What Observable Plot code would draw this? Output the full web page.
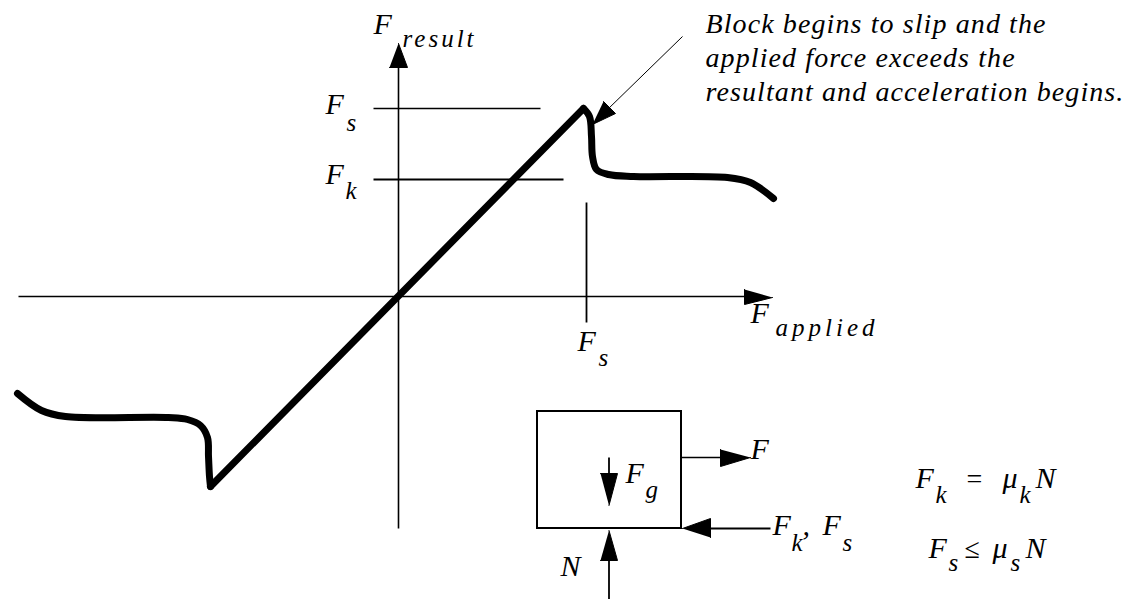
<!DOCTYPE html>
<html><head><meta charset="utf-8">
<script src="https://cdn.jsdelivr.net/npm/d3@7"></script>
<script src="https://cdn.jsdelivr.net/npm/@observablehq/plot@0.6"></script>
<style>body{margin:0;background:#fff} svg{display:block;background:#fff}</style>
</head><body><div id="chart"></div>
<script>
// Resultant (friction) force vs applied force, arbitrary units (F_s ≈ 1.88)
const curveSeg = ["left","left","left","left","left","left","left","left","left","left",
  "rise","rise",
  "right","right","right","right","right","right","right","right","right","right"];
const curveX = [-3.81,-3.57,-3.33,-2.30,-2.11,-1.98,-1.91,-1.90,-1.89,-1.88,
  -1.88,1.85,
  1.85,1.91,1.93,1.94,1.98,2.10,2.35,3.29,3.52,3.75];
const curveY = [-0.97,-1.14,-1.20,-1.21,-1.23,-1.29,-1.41,-1.60,-1.80,-1.90,
  -1.90,1.88,
  1.88,1.80,1.60,1.40,1.27,1.22,1.20,1.19,1.14,0.98];

// axes and reference lines (x1,y1,x2,y2)
const lineNames = ["xAxis","yAxis","Fs level","Fk level","Fs tick","F","Fg","Fk/Fs","N","note"];
const lineX1 = [-3.80, 0.00,-0.25,-0.25,1.88,2.83,2.105,3.10,2.105,2.84];
const lineY1 = [ 0.00,-2.32, 1.88, 1.17,0.94,-1.61,-1.61,-2.32,-2.62,2.60];
const lineX2 = [ 3.50, 0.00, 1.42, 1.65,1.88,3.24,2.105,3.72,2.105,2.08];
const lineY2 = [ 0.00, 2.30, 1.88, 1.17,-0.26,-1.61,-1.80,-2.32,-3.03,1.86];
const lineW  = [1.6,1.6,1.5,1.8,1.8,1.4,1.8,1.8,1.8,1];

// block
const blockX = [1.39, 2.83];
const blockY = [-2.32, -1.15];

// arrowheads (triangles)
const headId = ["x","x","x","y","y","y","F","F","F","g","g","g","f","f","f","N","N","N","n","n","n"];
const headX = [3.46,3.46,3.74, -0.09,0.09,0.00, 3.22,3.22,3.52, 2.02,2.19,2.105, 2.84,3.12,3.12, 2.02,2.19,2.105, 1.94,2.17,2.05];
const headY = [0.07,-0.08,-0.01, 2.29,2.29,2.53, -1.53,-1.70,-1.61, -1.77,-1.77,-2.09, -2.32,-2.22,-2.41, -2.64,-2.64,-2.34, 1.72,1.83,1.95];

// labels
const labelText = ["F","result","F","s","F","k","F","s","F","applied",
  "Block begins to slip and the","applied force exceeds the","resultant and acceleration begins.",
  "F","F","g","F","k",",","F","s","N",
  "F","k","=","μ","k","N",
  "F","s","≤","μ","s","N"];
const labelRole = ["main","sub","main","sub","main","sub","main","sub","main","sub",
  "note","note","note",
  "main","main","sub","main","sub","main","main","sub","main",
  "main","sub","op","main","sub","main",
  "main","sub","op","main","sub","main"];
const labelX = [-0.25,0.04,-0.73,-0.52,-0.73,-0.53,1.79,2.00,3.52,3.77,
  3.07,3.07,3.07,
  3.52,2.27,2.47,3.74,3.93,4.04,4.24,4.44,1.62,
  5.17,5.37,5.68,6.04,6.21,6.37,
  5.30,5.50,5.66,5.94,6.12,6.27];
const labelY = [2.63,2.50,1.83,1.66,1.13,0.98,-0.54,-0.69,-0.26,-0.39,
  2.64,2.30,1.96,
  -1.62,-1.86,-2.01,-2.38,-2.54,-2.38,-2.38,-2.54,-2.79,
  -1.91,-2.06,-1.91,-1.91,-2.06,-1.91,
  -2.61,-2.74,-2.61,-2.61,-2.74,-2.61];

const curve = curveX.map((x,i)=>({seg:curveSeg[i], x, y: curveY[i]}));
const lines = lineNames.map((n,i)=>({n, x1:lineX1[i], y1:lineY1[i], x2:lineX2[i], y2:lineY2[i], w:lineW[i]}));
const heads = headId.map((id,i)=>({id, x:headX[i], y:headY[i]}));
const labels = labelText.map((t,i)=>({t, role:labelRole[i], x:labelX[i], y:labelY[i]}));
const sizeOf = {main:30, sub:25, note:28, op:28};

const font = "'Liberation Serif', 'Times New Roman', serif";
const textMark = (role) => Plot.text(labels.filter(d=>d.role===role), {
  x:"x", y:"y", text:"t", textAnchor:"start", lineAnchor:"bottom",
  fontFamily:font, fontStyle: role==="op" ? "normal" : "italic",
  fontSize:sizeOf[role], fill:"#000"
});

const chart = Plot.plot({
  width:1133, height:599, margin:0,
  x:{domain:[-3.98,7.35], axis:null},
  y:{domain:[-3.03,2.96], axis:null},
  style:{background:"#fff", fontFamily:font},
  marks:[
    Plot.link(lines, {x1:"x1", y1:"y1", x2:"x2", y2:"y2", stroke:"#000", strokeWidth:"w"}),
    Plot.rect([{x1:blockX[0], x2:blockX[1], y1:blockY[0], y2:blockY[1]}], {x1:"x1", x2:"x2", y1:"y1", y2:"y2", fill:"none", stroke:"#000", strokeWidth:2}),
    Plot.line(heads, {x:"x", y:"y", z:"id", fill:"#000", stroke:"#000", strokeWidth:1, strokeLinejoin:"miter"}),
    Plot.line(curve, {x:"x", y:"y", z:"seg", curve:"catmull-rom", stroke:"#000", strokeWidth:7, strokeLinejoin:"round", strokeLinecap:"round"}),
    textMark("main"), textMark("sub"), textMark("note"), textMark("op")
  ]
});
document.getElementById("chart").appendChild(chart);
chart.querySelectorAll("text").forEach(t => {
  const s = t.textContent;
  if (s === "result") t.setAttribute("letter-spacing", "3");
  if (s === "applied") t.setAttribute("letter-spacing", "4");
  if (s.length > 20) t.setAttribute("letter-spacing", "1.1");
});
</script>
</body></html>
